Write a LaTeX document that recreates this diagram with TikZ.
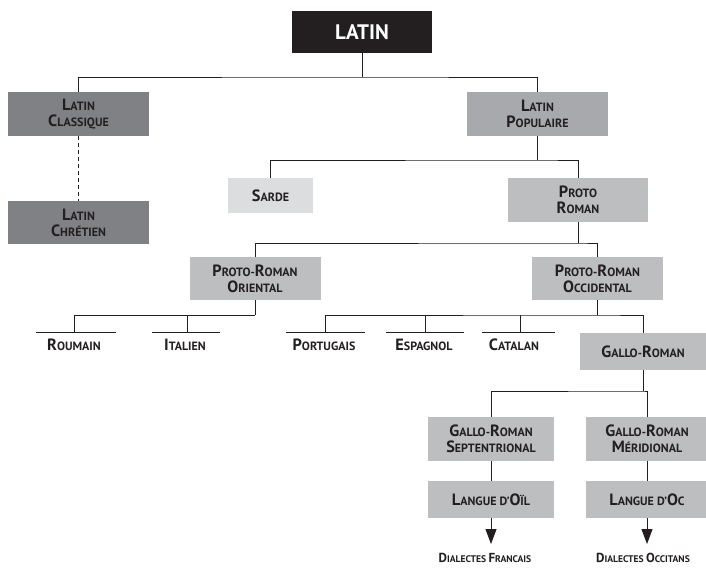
\documentclass[tikz,border=0pt]{standalone}
\usepackage{fontspec}
\usepackage{graphicx}
\setmainfont{PT Sans}
\usetikzlibrary{arrows.meta}
\definecolor{ink}{HTML}{231F20}
\definecolor{gdark}{HTML}{808184}
\definecolor{gmid}{HTML}{A7A9AC}
\definecolor{glight}{HTML}{DCDDDF}
\definecolor{gbox}{HTML}{BCBEC0}
\newcommand\Cp[1]{\scalebox{1.36}{#1}}
\tikzset{
  box/.style={draw=none, inner sep=0pt, align=center, text=ink,
    font=\bfseries\fontsize{12}{16}\selectfont},
  leaf/.style={inner sep=0pt, text=ink, font=\bfseries\fontsize{12}{16}\selectfont},
  tiny/.style={inner sep=0pt, text=ink, font=\bfseries\fontsize{9.6}{11}\selectfont},
  conn/.style={draw=ink, line width=0.9pt},
}
\begin{document}
\begin{tikzpicture}[x=1pt,y=-1pt]
\path[use as bounding box, fill=white] (0,0) rectangle (706,567);
% boxes
\node[box, fill=ink, text=white, minimum width=140pt, minimum height=42pt,
  font=\bfseries\fontsize{21}{24}\selectfont] (latin) at (362,32) {LATIN};
\node[box, fill=gdark, minimum width=141pt, minimum height=44pt] (lclass) at (78.5,114) {\Cp{L}ATIN\\\Cp{C}LASSIQUE};
\node[box, fill=gmid, minimum width=141pt, minimum height=44pt] (lpop) at (537.5,114) {\Cp{L}ATIN\\\Cp{P}OPULAIRE};
\node[box, fill=gdark, minimum width=141pt, minimum height=43pt] (lchret) at (78.5,222.5) {\Cp{L}ATIN\\\Cp{C}HRÉTIEN};
\node[box, fill=glight, minimum width=85pt, minimum height=35pt] (sarde) at (270.5,195.5) {\Cp{S}ARDE};
\node[box, fill=gbox, minimum width=140pt, minimum height=44pt] (proto) at (578,200) {\Cp{P}ROTO\\\Cp{R}OMAN};
\node[box, fill=gbox, minimum width=131pt, minimum height=43pt] (orient) at (255,278.5) {\Cp{P}ROTO-\Cp{R}OMAN\\\Cp{O}RIENTAL};
\node[box, fill=gbox, minimum width=131pt, minimum height=43pt] (occid) at (597.5,278.5) {\Cp{P}ROTO-\Cp{R}OMAN\\\Cp{O}CCIDENTAL};
\node[box, fill=gbox, minimum width=126pt, minimum height=37pt] (gallo) at (643,351.5) {\Cp{G}ALLO-\Cp{R}OMAN};
\node[box, fill=gbox, minimum width=126pt, minimum height=44pt] (sept) at (491,439) {\Cp{G}ALLO-\Cp{R}OMAN\\\Cp{S}EPTENTRIONAL};
\node[box, fill=gbox, minimum width=122pt, minimum height=44pt] (merid) at (647,439) {\Cp{G}ALLO-\Cp{R}OMAN\\\Cp{M}ÉRIDIONAL};
\node[box, fill=gbox, minimum width=126pt, minimum height=37pt] (oil) at (491,499.5) {\Cp{L}ANGUE D’\Cp{O}ÏL};
\node[box, fill=gbox, minimum width=122pt, minimum height=37pt] (oc) at (647,499.5) {\Cp{L}ANGUE D’\Cp{O}C};
% leaf labels
\node[leaf] (roumain) at (74,345) {\Cp{R}OUMAIN};
\node[leaf] (italien) at (185,345) {\Cp{I}TALIEN};
\node[leaf] (portugais) at (324,345) {\Cp{P}ORTUGAIS};
\node[leaf] (espagnol) at (424,345) {\Cp{E}SPAGNOL};
\node[leaf] (catalan) at (514,345) {\Cp{C}ATALAN};
\node[tiny] (dialf) at (485,557.5) {\Cp{D}IALECTES \Cp{F}RANCAIS};
\node[tiny] (dialo) at (643,557.5) {\Cp{D}IALECTES \Cp{O}CCITANS};
% junctions
\coordinate (j1) at (362,77);
\coordinate (j2) at (537.5,160);
\coordinate (j3) at (578,243);
\coordinate (j4) at (255,315);
\coordinate (j5) at (597.5,315);
\coordinate (j6) at (643,391);
\coordinate (r1) at (74,332);
\coordinate (i1) at (187,332);
\coordinate (p1) at (325,332);
\coordinate (e1) at (425,332);
\coordinate (c1) at (520,332);
\coordinate (rl) at (36,332); \coordinate (rr) at (116,332);
\coordinate (il) at (152,332); \coordinate (ir) at (220,332);
\coordinate (pl) at (286,332); \coordinate (pr) at (365,332);
\coordinate (el) at (386,332); \coordinate (er) at (464,332);
\coordinate (cl) at (482,332); \coordinate (cr) at (555,332);
\coordinate (af) at (491,544);
\coordinate (ao) at (647,544);
% connectors
\draw[conn] (latin.south) -- (j1);
\draw[conn] (lclass.north) |- (j1) -| (lpop.north);
\draw[conn, dash pattern=on 4pt off 3pt] (lclass.south) -- (lchret.north);
\draw[conn] (lpop.south) -- (j2);
\draw[conn] (sarde.north) |- (j2) -| (proto.north);
\draw[conn] (proto.south) -- (j3);
\draw[conn] (orient.north) |- (j3) -| (occid.north);
\draw[conn] (orient.south) -- (j4);
\draw[conn] (r1) |- (j4);
\draw[conn] (i1) -- (i1 |- j4);
\draw[conn] (occid.south) -- (j5);
\draw[conn] (p1) |- (j5) -| (gallo.north);
\draw[conn] (e1) -- (e1 |- j5);
\draw[conn] (c1) -- (c1 |- j5);
\draw[conn] (rl) -- (rr);
\draw[conn] (il) -- (ir);
\draw[conn] (pl) -- (pr);
\draw[conn] (el) -- (er);
\draw[conn] (cl) -- (cr);
\draw[conn] (gallo.south) -- (j6);
\draw[conn] (sept.north) |- (j6) -| (merid.north);
\draw[conn] (sept.south) -- (oil.north);
\draw[conn] (merid.south) -- (oc.north);
\draw[conn, -{Triangle[length=15pt,width=11pt]}] (oil.south) -- (af);
\draw[conn, -{Triangle[length=15pt,width=11pt]}] (oc.south) -- (ao);
\end{tikzpicture}
\end{document}
